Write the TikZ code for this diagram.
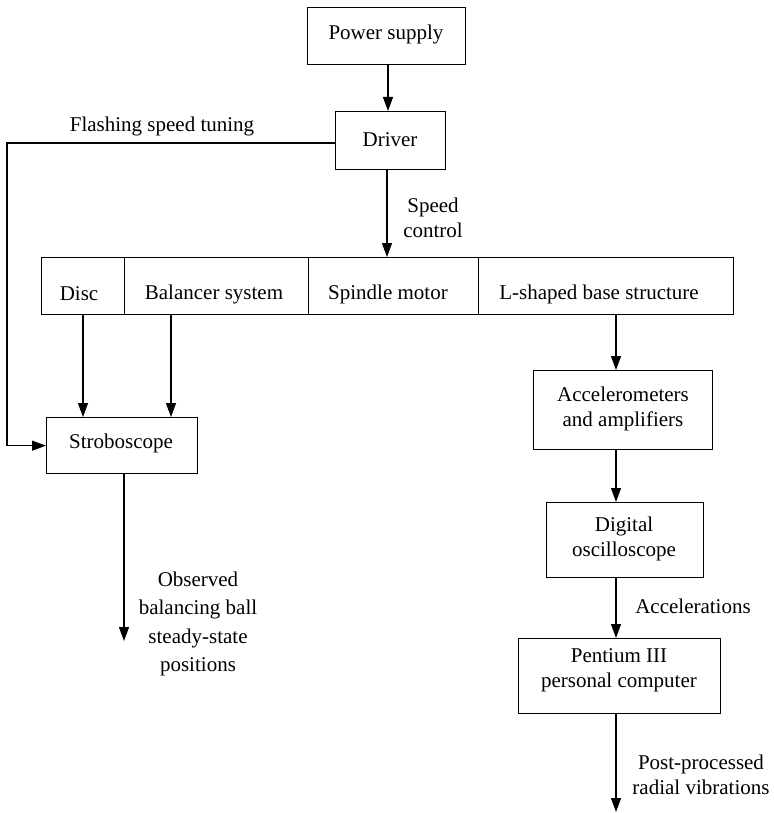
\documentclass[tikz,border=0pt]{standalone}
\usepackage{fontspec}
\setmainfont{LiberationSerif}[Extension=.ttf,UprightFont=*-Regular,BoldFont=*-Bold,ItalicFont=*-Italic]
\usetikzlibrary{arrows.meta}
\begin{document}
\begin{tikzpicture}[x=1pt,y=-1pt,
  every node/.style={font=\rmfamily\fontsize{21}{25}\selectfont},
  box/.style={draw,line width=1.3pt,inner sep=0pt,anchor=north west,align=center},
  txt/.style={inner sep=0pt,align=center},
  arr/.style={line width=1.3pt,-{Triangle[length=14pt,width=10pt]}},
  ln/.style={line width=1.3pt}]
\useasboundingbox (0,0) rectangle (773,813);
% boxes
\node[box,minimum width=158pt,minimum height=57pt] (ps) at (307,7) {};
\node[txt] at (386,34) {Power supply};
\node[box,minimum width=110pt,minimum height=58pt] (driver) at (335,111) {};
\node[txt] at (390,140) {Driver};
% row
\node[box,minimum width=83pt,minimum height=57pt] (disc) at (41,257) {};
\node[box,minimum width=184pt,minimum height=57pt] (bal) at (124,257) {};
\node[box,minimum width=170pt,minimum height=57pt] (spin) at (308,257) {};
\node[box,minimum width=255pt,minimum height=57pt] (lbase) at (478,257) {};
\node[txt] at (79,294) {Disc};
\node[txt] at (214,294) {Balancer system};
\node[txt] at (388,294) {Spindle motor};
\node[txt] at (599,294) {L-shaped base structure};
% left column
\node[box,minimum width=151pt,minimum height=56pt] (strobe) at (46,417) {};
\node[txt] at (121,443) {Stroboscope};
% right column
\node[box,minimum width=179pt,minimum height=79pt] (accel) at (533,370) {};
\node[txt] at (623,409) {Accelerometers\\and amplifiers};
\node[box,minimum width=157pt,minimum height=75pt] (dig) at (546,502) {};
\node[txt] at (624,539) {Digital\\oscilloscope};
\node[box,minimum width=202pt,minimum height=75pt] (pc) at (518,638) {};
\node[txt] at (619,670) {Pentium III\\personal computer};
% labels
\node[txt] (lflash) at (162,126) {Flashing speed tuning};
\node[txt] (lspeed) at (433,218) {Speed\\control};
\node[txt,font=\rmfamily\fontsize{21}{28.5}\selectfont] (lobs) at (198,624) {Observed\\balancing ball\\steady-state\\positions};
\node[txt] (lacc) at (693,606) {Accelerations};
\node[txt] (lpost) at (701,775) {Post-processed\\radial vibrations};
% helper coordinates
\coordinate (cx) at (616,0);
\coordinate (bx) at (171,0);
\coordinate (dx) at (83,0);
\coordinate (fl) at (7,143);
\coordinate (obsend) at (124,641);
\coordinate (postend) at (616,812);
% connectors
\draw[arr] (ps.south -| 388,0) -- (driver.north -| 388,0);
\draw[arr] (driver.south -| 387,0) -- (spin.north -| 387,0);
\draw[arr] (driver.west |- fl) -- (fl) |- (strobe.west);
\draw[arr] (disc.south -| dx) -- (strobe.north -| dx);
\draw[arr] (bal.south -| bx) -- (strobe.north -| bx);
\draw[arr] (strobe.south -| obsend) -- (obsend);
\draw[arr] (lbase.south -| cx) -- (accel.north -| cx);
\draw[arr] (accel.south -| cx) -- (dig.north -| cx);
\draw[arr] (dig.south -| cx) -- (pc.north -| cx);
\draw[arr] (pc.south -| cx) -- (postend);
\end{tikzpicture}
\end{document}
